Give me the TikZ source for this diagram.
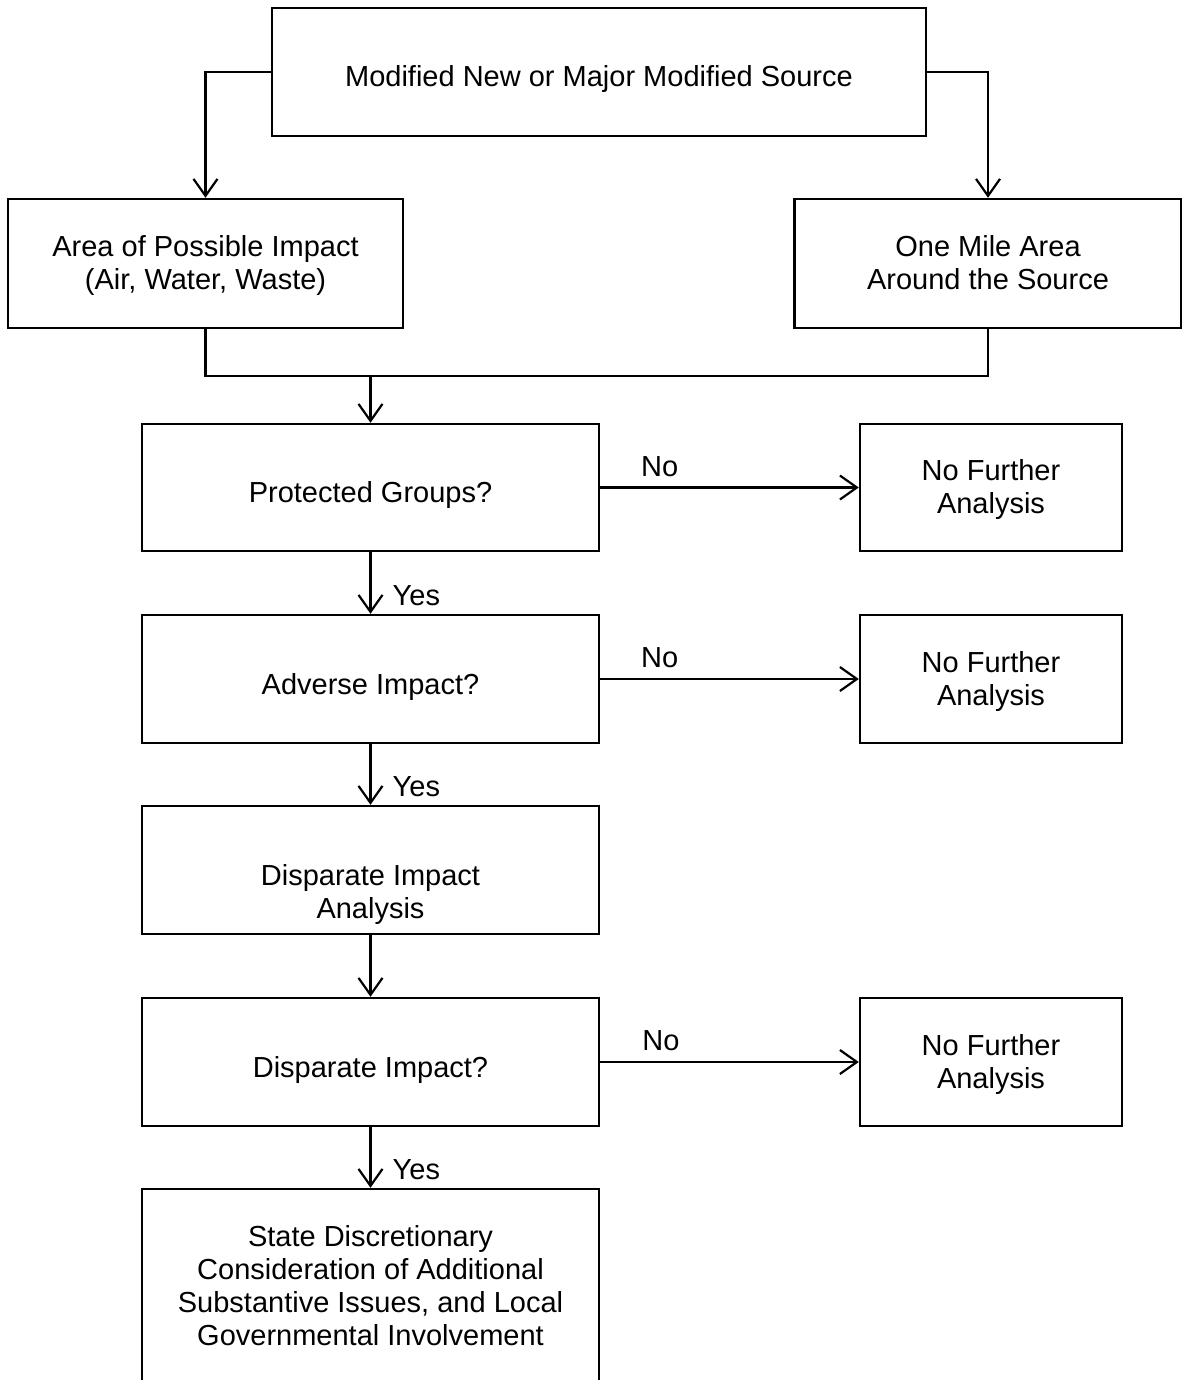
\documentclass[tikz,border=0pt]{standalone}
\usepackage{fontspec}
\setmainfont{Liberation Sans}
\usetikzlibrary{arrows.meta}
\begin{document}
\begin{tikzpicture}[x=1pt,y=1pt,
  box/.style={draw,line width=2.4pt,align=center,inner sep=0pt,
    font=\fontsize{29}{33}\selectfont,text height=30pt,text depth=0pt},
  two/.style={text height=54pt,text depth=2pt},
  low/.style={text height=96pt,text depth=0pt},
  four/.style={text height=120pt,text depth=2pt},
  conn/.style={line width=2.4pt},
  arr/.style={conn,-{Straight Barb[length=17pt,width=24pt,line width=2.2pt]}},
  lbl/.style={font=\fontsize{29}{33}\selectfont,inner sep=0pt}]
\useasboundingbox (0,0) rectangle (1182,-1380);
\node[box,minimum width=654pt,minimum height=128pt] (top) at (599,-72) {Modified New or Major Modified Source};
\node[box,two,minimum width=395pt,minimum height=129pt] (A) at (205.5,-263.5) {Area of Possible Impact\\(Air, Water, Waste)};
\node[box,two,minimum width=387pt,minimum height=129pt] (B) at (988,-263.5) {One Mile Area\\Around the Source};
\node[box,minimum width=457pt,minimum height=127pt] (pg) at (370.5,-487.5) {Protected Groups?};
\node[box,two,minimum width=262pt,minimum height=127pt] (nf1) at (991,-487.5) {No Further\\Analysis};
\node[box,minimum width=457pt,minimum height=128pt] (ai) at (370.5,-679) {Adverse Impact?};
\node[box,two,minimum width=262pt,minimum height=128pt] (nf2) at (991,-679) {No Further\\Analysis};
\node[box,low,minimum width=457pt,minimum height=128pt] (dia) at (370.5,-870) {Disparate Impact\\Analysis};
\node[box,minimum width=457pt,minimum height=128pt] (di) at (370.5,-1062) {Disparate Impact?};
\node[box,two,minimum width=262pt,minimum height=128pt] (nf3) at (991,-1062) {No Further\\Analysis};
\node[box,four,minimum width=457pt,minimum height=194pt] (fin) at (370.5,-1286) {State Discretionary\\Consideration of Additional\\Substantive Issues, and Local\\Governmental Involvement};
% top splits
\draw[arr] (top.west) -| (A.north);
\draw[arr] (top.east) -| (B.north);
% merge
\coordinate (m) at (370.5,-376);
\draw[conn] (A.south) |- (m) -| (B.south);
\draw[arr] (m) -- (pg.north);
% No branches
\draw[arr] (pg.east) -- node[lbl,pos=0.23,above=10pt] (no1) {No} (nf1.west);
\draw[arr] (ai.east) -- node[lbl,pos=0.23,above=10pt] (no2) {No} (nf2.west);
\draw[arr] (di.east) -- node[lbl,pos=0.235,above=10pt] (no3) {No} (nf3.west);
% Yes branches
\draw[arr] (pg.south) -- node[lbl,pos=0.7,right=21pt] (y1) {Yes} (ai.north);
\draw[arr] (ai.south) -- node[lbl,pos=0.7,right=21pt] (y2) {Yes} (dia.north);
\draw[arr] (dia.south) -- (di.north);
\draw[arr] (di.south) -- node[lbl,pos=0.7,right=21pt] (y3) {Yes} (fin.north);
\end{tikzpicture}
\end{document}
